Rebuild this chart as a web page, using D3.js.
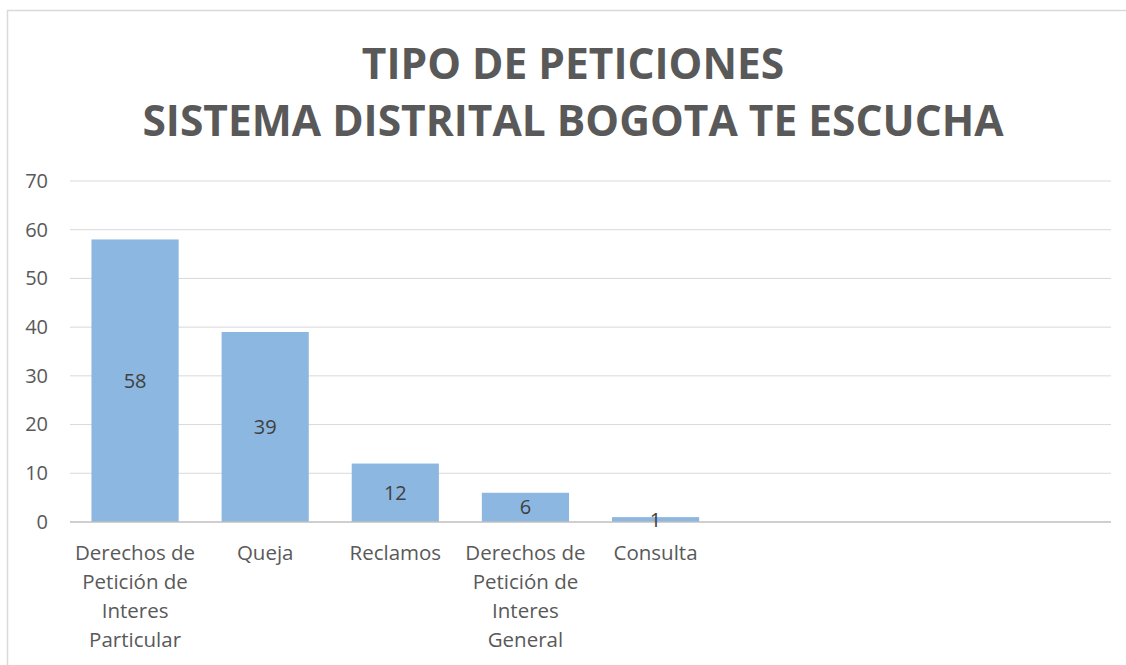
<!DOCTYPE html>
<html>
<head>
<meta charset="utf-8">
<script src="https://cdn.jsdelivr.net/npm/d3@7"></script>
<style>
  body { margin: 0; background: #fff; }
  #chart { width: 1126px; height: 665px; }
  text { font-family: "Open Sans", "Noto Sans", sans-serif; }
</style>
</head>
<body>
<div id="chart"></div>
<script>
// datos del grafico
const categorias = [
  "Derechos de|Petición de|Interes|Particular",
  "Queja",
  "Reclamos",
  "Derechos de|Petición de|Interes|General",
  "Consulta"
];
const valores = [58, 39, 12, 6, 1];
const totalRanuras = 8; // el eje deja espacio para 3 categorias vacias
const ticksY = [0, 10, 20, 30, 40, 50, 60, 70];
const titulo = ["TIPO DE PETICIONES", "SISTEMA DISTRITAL BOGOTA TE ESCUCHA"];

const W = 1126, H = 665;
const margin = { top: 181, right: 15, bottom: 143, left: 70 };
const width = W - margin.left - margin.right;
const height = H - margin.top - margin.bottom;

const svg = d3.select("#chart").append("svg")
  .attr("width", W)
  .attr("height", H);

// marco del grafico
svg.append("rect")
  .attr("x", 7.5).attr("y", 10.5)
  .attr("width", W + 10).attr("height", H + 10)
  .attr("fill", "none")
  .attr("stroke", "#d9d9d9")
  .attr("stroke-width", 1.5);

svg.selectAll("text.titulo")
  .data(titulo)
  .join("text")
  .attr("class", "titulo")
  .attr("x", 573)
  .attr("y", (d, i) => 79 + i * 57)
  .attr("text-anchor", "middle")
  .attr("font-size", 42.5)
  .attr("font-weight", "bold")
  .attr("fill", "#595959")
  .text(d => d);

const g = svg.append("g")
  .attr("transform", `translate(${margin.left},${margin.top})`);

const x = d3.scaleBand()
  .domain(d3.range(totalRanuras))
  .range([0, width])
  .paddingInner(0.33)
  .paddingOuter(0.165);

const y = d3.scaleLinear()
  .domain([0, 70])
  .range([height, 0]);

// lineas de cuadricula
g.append("g")
  .selectAll("line")
  .data(ticksY.slice(1))
  .join("line")
  .attr("x1", 0).attr("x2", width)
  .attr("y1", d => y(d)).attr("y2", d => y(d))
  .attr("stroke", "#d9d9d9")
  .attr("stroke-width", 1);

const ejeY = g.append("g")
  .call(d3.axisLeft(y).tickValues(ticksY).tickSize(0).tickPadding(22));
ejeY.select(".domain").remove();
ejeY.selectAll("text")
  .attr("font-size", 20)
  .attr("font-family", "Open Sans, sans-serif")
  .attr("fill", "#595959");

g.selectAll("rect.barra")
  .data(valores)
  .join("rect")
  .attr("class", "barra")
  .attr("x", (d, i) => x(i))
  .attr("y", d => y(d))
  .attr("width", x.bandwidth())
  .attr("height", d => height - y(d))
  .attr("fill", "#8cb7e1");

// eje x
g.append("line")
  .attr("x1", 0).attr("x2", width)
  .attr("y1", height).attr("y2", height)
  .attr("stroke", "#bfbfbf")
  .attr("stroke-width", 1.5);

g.selectAll("text.valor")
  .data(valores)
  .join("text")
  .attr("class", "valor")
  .attr("x", (d, i) => x(i) + x.bandwidth() / 2)
  .attr("y", d => (y(d) + height) / 2 + 7)
  .attr("text-anchor", "middle")
  .attr("font-size", 20)
  .attr("fill", "#404040")
  .text(d => d);

const etiquetas = g.selectAll("text.cat")
  .data(categorias)
  .join("text")
  .attr("class", "cat")
  .attr("text-anchor", "middle")
  .attr("font-size", 20.5)
  .attr("fill", "#595959");

etiquetas.each(function (d, i) {
  d3.select(this).selectAll("tspan")
    .data(d.split("|"))
    .join("tspan")
    .attr("x", x(i) + x.bandwidth() / 2)
    .attr("y", (t, j) => height + 38 + j * 29)
    .text(t => t);
});
</script>
</body>
</html>
